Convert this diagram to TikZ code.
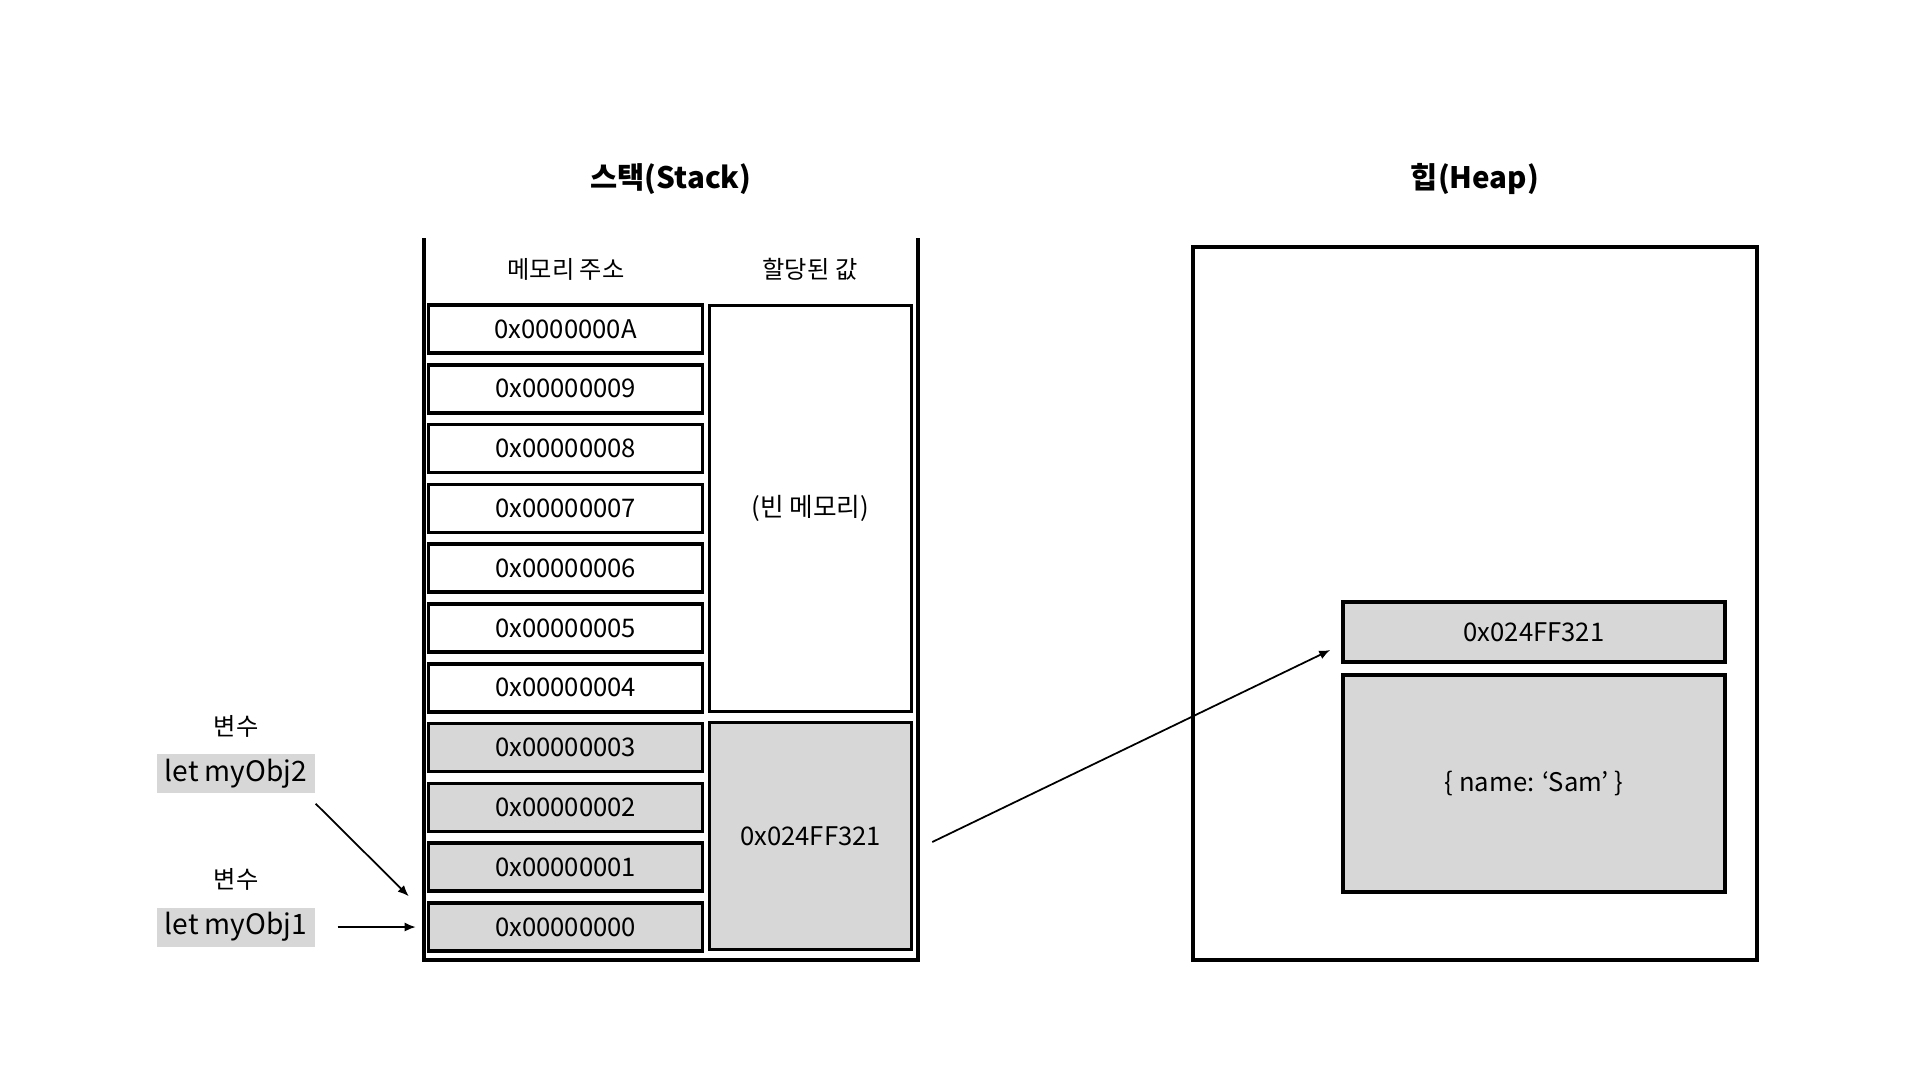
\documentclass[tikz,border=0pt]{standalone}
\usepackage{fontspec}
\setmainfont{Noto Sans CJK KR}
\usetikzlibrary{arrows.meta}

\newcommand{\textsz}[1]{\fontsize{#1}{#1}\selectfont}

\tikzset{
    cell/.style={draw=borderColour, line width=1pt, inner sep=0pt,
        minimum width=27.4mm, minimum height=4.8mm, font=\textsz{7.3pt}},
    valbox/.style={draw=borderColour, line width=1pt, inner sep=0pt,
        minimum width=20.2mm, font=\textsz{7.3pt}},
    varbox/.style={fill=fillColour, inner sep=0pt, minimum width=15.8mm,
        minimum height=3.9mm, font=\textsz{8pt}},
    caption/.style={font=\textsz{6.9pt}},
    title/.style={font=\bfseries\textsz{8.4pt}},
    ptr/.style={-{Latex[length=1.1mm,width=0.9mm]}, line width=0.5pt}
}

\begin{document}
\begin{tikzpicture}[x=0.1mm, y=-0.1mm]
    % Define colours
    \definecolor{borderColour}{HTML}{000000}
    \definecolor{fillColour}{HTML}{D7D7D7}

    % Define row pitch of the stack
    \def\rowStep{59.8}

    % Canvas
    \useasboundingbox (0,0) rectangle (1920,1080);

    % Titles
    \node[title] (stackTitle) at (671,179) {스택(Stack)};
    \node[title] (heapTitle) at (1475,179) {힙(Heap)};

    % Stack container (open at the top)
    \draw[line width=0.9pt] (424,238) -- (424,960) -- (918,960) -- (918,238);

    % Column headers
    \node[caption] (addrHead) at (566,269) {메모리 주소};
    \node[caption] (valHead) at (810,269) {할당된 값};

    % Address cells, bottom to top
    \foreach \i/\d in {0/0,1/1,2/2,3/3,4/4,5/5,6/6,7/7,8/8,9/9,10/A} {
        \ifnum\i<4 \def\cellFill{fillColour}\else \def\cellFill{white}\fi
        \node[cell, fill=\cellFill] (a\i) at (565.5,{927-\rowStep*\i}) {0x0000000\d};
    }

    % Assigned values
    \node[valbox, minimum height=40.6mm] (free) at (810.5,508.5) {(빈 메모리)};
    \node[valbox, minimum height=22.7mm, fill=fillColour] (val) at (810.5,836) {0x024FF321};

    % Heap
    \draw[line width=0.9pt] (1193,247) rectangle (1757,960);
    \node[valbox, minimum width=38.2mm, minimum height=6mm, fill=fillColour] (hAddr) at (1534,632) {0x024FF321};
    \node[valbox, minimum width=38.2mm, minimum height=21.7mm, fill=fillColour] (hObj) at (1534,783.5) {\{ name: ‘Sam’ \}};

    % Variables
    \node[caption] (var2Label) at (236,726) {변수};
    \node[varbox] (obj2) at (236,773.5) {let myObj2};
    \node[caption] (var1Label) at (236,879) {변수};
    \node[varbox] (obj1) at (236,927) {let myObj1};

    % Pointers
    \draw[ptr] ([yshift=-1mm]obj2.south east) -- ([xshift=-1.8mm,yshift=0.5mm]a0.north west);
    \draw[ptr] ([xshift=2.2mm]obj1.east) -- ([xshift=-1.1mm]a0.west);
    \draw[ptr] ([xshift=1.9mm,yshift=-0.6mm]val.east) -- ([xshift=-1.1mm,yshift=-1.8mm]hAddr.west);

\end{tikzpicture}
\end{document}
